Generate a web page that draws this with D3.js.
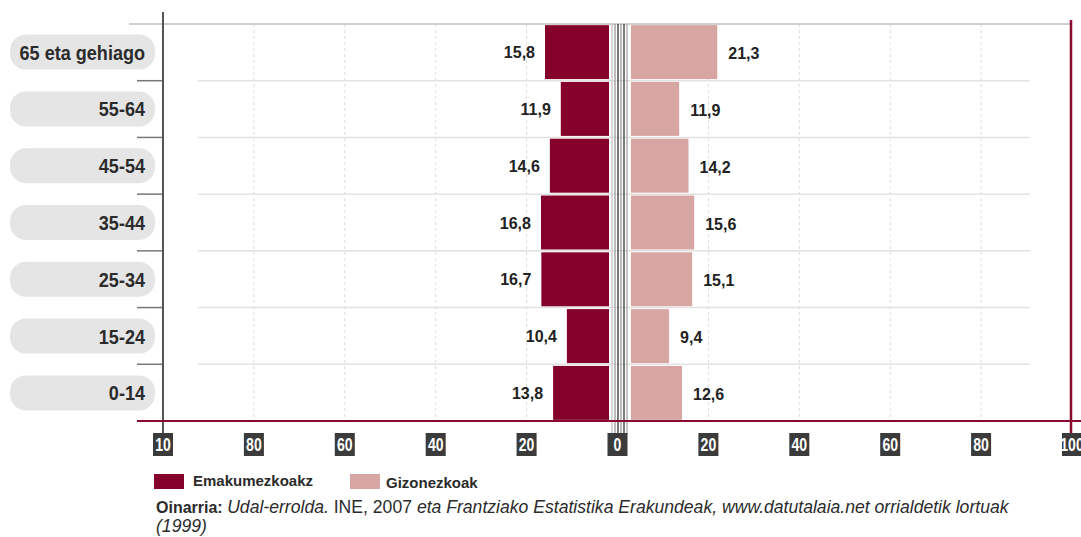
<!DOCTYPE html>
<html>
<head>
<meta charset="utf-8">
<script src="https://cdn.jsdelivr.net/npm/d3@7"></script>
<style>
  body { margin: 0; background: #fff; }
  svg { display: block; font-family: "Liberation Sans", Arial, sans-serif; }
</style>
</head>
<body>
<div id="chart"></div>
<script>
// age groups, top to bottom
var ages = ["65 eta gehiago", "55-64", "45-54", "35-44", "25-34", "15-24", "0-14"];
var women = [15.8, 11.9, 14.6, 16.8, 16.7, 10.4, 13.8];
var men = [21.3, 11.9, 14.2, 15.6, 15.1, 9.4, 12.6];
var tickValues = [-100, -80, -60, -40, -20, 0, 20, 40, 60, 80, 100];
var tickLabels = ["10", "80", "60", "40", "20", "0", "20", "40", "60", "80", "100"];
var legendNames = ["Emakumezkoakz", "Gizonezkoak"];

var width = 1081,
    height = 537,
    womenColor = "#85002a",
    menColor = "#d8a6a2",
    red = "#8a0a2e";

var svg = d3.select("#chart")
    .append("svg")
    .attr("width", width)
    .attr("height", height);

// axis scale (-100..100), bars use their own scale from the centre gap
var x = d3.scaleLinear()
    .domain([-100, 100])
    .range([163, 1072]);

var barLen = d3.scaleLinear()
    .domain([0, 100])
    .range([0, 405]);

var y = d3.scaleBand()
    .domain(ages)
    .range([24, 421])
    .paddingInner(0.05)
    .paddingOuter(0.02);

var womenEdge = 609,
    menEdge = 631;

// dashed vertical grid
svg.append("g")
    .selectAll("line")
    .data(tickValues.filter(d => d !== 0 && Math.abs(d) !== 100))
    .join("line")
    .attr("x1", d => x(d)).attr("x2", d => x(d))
    .attr("y1", 24).attr("y2", 421)
    .attr("stroke", "#dcdcdc")
    .attr("stroke-dasharray", "3,3");

// row dividers
var dividers = d3.range(1, ages.length).map(i => 24 + i * (397 / ages.length));
svg.append("g")
    .selectAll("line")
    .data(dividers)
    .join("line")
    .attr("x1", 198).attr("x2", 1030)
    .attr("y1", d => d).attr("y2", d => d)
    .attr("stroke", "#e2e2e2")
    .attr("stroke-width", 1.5);

// little ticks on the left axis
svg.append("g")
    .selectAll("line")
    .data(dividers)
    .join("line")
    .attr("x1", 137).attr("x2", 163)
    .attr("y1", d => d).attr("y2", d => d)
    .attr("stroke", "#777")
    .attr("stroke-width", 1.5);

// top line
svg.append("line")
    .attr("x1", 129).attr("x2", 1071)
    .attr("y1", 24).attr("y2", 24)
    .attr("stroke", "#cfcfcf")
    .attr("stroke-width", 2);

// label pills
var pills = svg.append("g")
    .selectAll("g")
    .data(ages)
    .join("g")
    .attr("transform", d => `translate(0, ${y(d) + y.bandwidth() / 2})`);

pills.append("rect")
    .attr("x", 10).attr("y", -17.5)
    .attr("width", 145).attr("height", 35)
    .attr("rx", 16)
    .attr("fill", "#e5e5e6");

// condensed look: squeeze the bold face horizontally
pills.append("text")
    .attr("transform", "translate(145, 7.5) scale(0.86, 1)")
    .attr("text-anchor", "end")
    .style("font-size", "21px")
    .style("font-weight", "bold")
    .attr("fill", "#2b2b2b")
    .text(d => d);

// bars
svg.append("g")
    .selectAll("rect")
    .data(women)
    .join("rect")
    .attr("x", d => womenEdge - barLen(d))
    .attr("y", (d, i) => y(ages[i]))
    .attr("width", d => barLen(d))
    .attr("height", y.bandwidth())
    .attr("fill", womenColor);

svg.append("g")
    .selectAll("rect")
    .data(men)
    .join("rect")
    .attr("x", menEdge)
    .attr("y", (d, i) => y(ages[i]))
    .attr("width", d => barLen(d))
    .attr("height", y.bandwidth())
    .attr("fill", menColor);

// value labels
var fmt = d => d3.format(".1f")(d).replace(".", ",");

svg.append("g")
    .selectAll("text")
    .data(women)
    .join("text")
    .attr("x", d => womenEdge - barLen(d) - 10)
    .attr("y", (d, i) => y(ages[i]) + y.bandwidth() / 2 + 6)
    .attr("text-anchor", "end")
    .style("font-size", "16px")
    .style("font-weight", "bold")
    .attr("fill", "#222")
    .text(fmt);

svg.append("g")
    .selectAll("text")
    .data(men)
    .join("text")
    .attr("x", d => menEdge + barLen(d) + 11)
    .attr("y", (d, i) => y(ages[i]) + y.bandwidth() / 2 + 7)
    .style("font-size", "16px")
    .style("font-weight", "bold")
    .attr("fill", "#222")
    .text(fmt);

// centre stripes
var stripeColors = ["#c4c4c4", "#9a9a9a", "#333", "#9a9a9a", "#333", "#a8a8a8"];
svg.append("g")
    .selectAll("line")
    .data(stripeColors)
    .join("line")
    .attr("x1", (d, i) => x(0) - 5.5 + i * 3)
    .attr("x2", (d, i) => x(0) - 5.5 + i * 3)
    .attr("y1", 24).attr("y2", 434)
    .attr("stroke", d => d)
    .attr("stroke-width", 1.3);

// left axis line
svg.append("line")
    .attr("x1", 163).attr("x2", 163)
    .attr("y1", 12).attr("y2", 434)
    .attr("stroke", "#555")
    .attr("stroke-width", 2);

// right red line and bottom axis
svg.append("line")
    .attr("x1", 1071).attr("x2", 1071)
    .attr("y1", 20).attr("y2", 434)
    .attr("stroke", red)
    .attr("stroke-width", 2.5);

svg.append("line")
    .attr("x1", 137).attr("x2", width)
    .attr("y1", 421).attr("y2", 421)
    .attr("stroke", red)
    .attr("stroke-width", 2);

// tick labels in dark boxes
var ticks = svg.append("g")
    .selectAll("g")
    .data(tickValues)
    .join("g")
    .attr("transform", d => `translate(${x(d)}, 433)`);

ticks.append("rect")
    .attr("x", -10).attr("y", 0)
    .attr("width", 20).attr("height", 23)
    .attr("fill", "#3b3b3b");

ticks.append("text")
    .attr("transform", "translate(0, 18) scale(0.78, 1)")
    .attr("text-anchor", "middle")
    .style("font-size", "18px")
    .style("font-weight", "bold")
    .attr("fill", "#fff")
    .text((d, i) => tickLabels[i]);

// legend
var legend = svg.append("g")
    .selectAll("g")
    .data(legendNames)
    .join("g")
    .attr("transform", (d, i) => `translate(${i === 0 ? 154 : 350}, 474)`);

legend.append("rect")
    .attr("width", 30).attr("height", 15)
    .attr("fill", (d, i) => i === 0 ? womenColor : menColor);

legend.append("text")
    .attr("x", (d, i) => i === 0 ? 39 : 36)
    .attr("y", (d, i) => i === 0 ? 12 : 14)
    .style("font-size", "15px")
    .style("font-weight", "bold")
    .attr("fill", "#2b2b2b")
    .text(d => d);

// source note
var note = svg.append("text")
    .attr("x", 156)
    .attr("y", 513)
    .style("font-size", "17.6px")
    .attr("fill", "#2b2b2b");

note.append("tspan").style("font-weight", "bold").style("font-size", "16px").text("Oinarria: ");
note.append("tspan").style("font-style", "italic").text("Udal-errolda.");
note.append("tspan").text(" INE, 2007 ");
note.append("tspan").style("font-style", "italic")
    .text("eta Frantziako Estatistika Erakundeak, www.datutalaia.net orrialdetik lortuak");
note.append("tspan").attr("x", 156).attr("dy", 19).style("font-style", "italic").text("(1999)");
</script>
</body>
</html>
